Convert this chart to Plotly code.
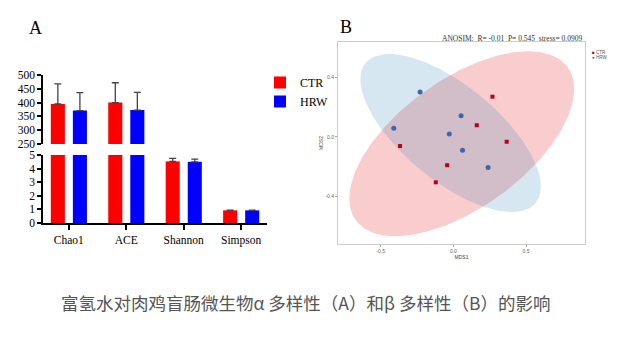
import numpy as np
import plotly.graph_objects as go

# ---------------- data ----------------
categories = ["Chao1", "ACE", "Shannon", "Simpson"]
ctr_mean = [395, 400, 4.53, 0.93]
ctr_err = [73, 72, 0.22, 0.01]
hrw_mean = [371, 373, 4.50, 0.93]
hrw_err = [65, 64, 0.20, 0.01]

upper_ticks = [250, 300, 350, 400, 450, 500]
lower_ticks = [0, 1, 2, 3, 4, 5]

ctr_mds1 = [0.161, -0.367, -0.043, -0.121, 0.269, 0.367]
ctr_mds2 = [0.079, -0.061, -0.190, -0.305, 0.271, -0.032]
hrw_mds1 = [-0.229, 0.053, -0.410, -0.028, 0.063, 0.239]
hrw_mds2 = [0.302, 0.143, 0.058, 0.020, -0.089, -0.206]

mds_xticks = [-0.5, 0.0, 0.5]
mds_yticks = [-0.4, 0.0, 0.4]

group_names = ["CTR", "HRW"]
anosim_text = "ANOSIM:  R= -0.01  P= 0.545  stress= 0.0909"
caption = "富氢水对肉鸡盲肠微生物α 多样性（A）和β 多样性（B）的影响"

# ---------------- helpers ----------------
# the page body has an 8px margin on every side; keep the figure inside the window
OFF = 8
W, H = 630 - 2 * OFF, 355 - 2 * OFF
def px(x):
    return (x - OFF) / W
def py(y):
    return 1 - (y - OFF) / H


def cov_trob(x, nu=5, maxit=25, tol=0.01):
    """Multivariate-t robust covariance (as MASS::cov.trob)."""
    n, p = x.shape
    wt = np.ones(n)
    loc = x.mean(axis=0)
    w = np.sqrt(wt)
    X = x - loc
    for _ in range(maxit):
        w0 = w
        X = x - loc
        _, d, vt = np.linalg.svd(np.sqrt(w / w.sum())[:, None] * X, full_matrices=False)
        wX = X @ vt.T @ np.diag(1 / d)
        Q = (wX ** 2).sum(axis=1)
        w = (wt * (nu + p)) / (nu + Q)
        loc = (w[:, None] * x).sum(axis=0) / w.sum()
        if np.all(np.abs(w - w0) < tol):
            break
    cov = (np.sqrt(w)[:, None] * X).T @ (np.sqrt(w)[:, None] * X) / wt.sum()
    return loc, cov


def conf_ellipse(xs, ys, level=0.95, n=240):
    pts = np.column_stack([xs, ys])
    center, shape = cov_trob(pts)
    dfn, dfd = 2, len(xs) - 1
    qf = dfd / 2 * ((1 - level) ** (-2 / dfd) - 1)  # F(2, dfd) quantile
    radius = np.sqrt(dfn * qf)
    chol = np.linalg.cholesky(shape).T  # upper triangular like R's chol
    t = np.linspace(0, 2 * np.pi, n)
    circ = np.column_stack([np.cos(t), np.sin(t)])
    e = center + radius * (circ @ chol)
    return e[:, 0], e[:, 1]


RED = "#FF0000"
BLUE = "#0000FF"
PT_RED = "#B8001A"
PT_BLUE = "#3A68AE"
SERIF = "Liberation Serif"

fig = go.Figure()

# ---------------- panel A ----------------
bar_w = 0.245
for yax, xax, show in [("y", "x2", False), ("y2", "x", True)]:
    fig.add_trace(go.Bar(
        x=categories, y=ctr_mean, name=group_names[0], marker_color=RED, marker_line_width=0,
        width=bar_w, offset=-0.314, xaxis=xax, yaxis=yax, showlegend=show,
        error_y=dict(type="data", symmetric=False, array=ctr_err,
                     arrayminus=[0] * 4, color="#444444", thickness=1.3, width=3.5),
    ))
    fig.add_trace(go.Bar(
        x=categories, y=hrw_mean, name=group_names[1], marker_color=BLUE, marker_line_width=0,
        width=bar_w, offset=0.07, xaxis=xax, yaxis=yax, showlegend=show,
        error_y=dict(type="data", symmetric=False, array=hrw_err,
                     arrayminus=[0] * 4, color="#444444", thickness=1.3, width=3.5),
    ))

# ---------------- panel B ----------------
for xs, ys, fill in [(ctr_mds1, ctr_mds2, "rgba(227,26,28,0.22)"),
                     (hrw_mds1, hrw_mds2, "rgba(31,120,180,0.18)")]:
    ex, ey = conf_ellipse(xs, ys)
    fig.add_trace(go.Scatter(x=ex, y=ey, mode="lines", fill="toself",
                             fillcolor=fill, line=dict(width=0),
                             xaxis="x3", yaxis="y3", showlegend=False,
                             hoverinfo="skip"))

fig.add_trace(go.Scatter(x=ctr_mds1, y=ctr_mds2, mode="markers", name=group_names[0],
                         marker=dict(symbol="square", size=4, color=PT_RED),
                         xaxis="x3", yaxis="y3", showlegend=False))
fig.add_trace(go.Scatter(x=hrw_mds1, y=hrw_mds2, mode="markers", name=group_names[1],
                         marker=dict(symbol="circle", size=5, color=PT_BLUE),
                         xaxis="x3", yaxis="y3", showlegend=False))

axA = dict(showline=True, linecolor="black", linewidth=1.5, ticks="outside",
           ticklen=4, tickwidth=1.5, tickcolor="black", showgrid=False,
           zeroline=False, tickfont=dict(family=SERIF, size=11.5, color="black"))

axB_font = dict(family="Liberation Sans", size=5, color="#666")

# small key for panel B (as in the reference, right of the panel)
keyB = []
for name, sym, col, yy in [(group_names[0], "■", PT_RED, 52), (group_names[1], "●", PT_BLUE, 57)]:
    keyB.append(dict(text=f'<span style="color:{col}">{sym}</span> {name}',
                     x=px(590), y=py(yy), xref="paper", yref="paper",
                     xanchor="left", yanchor="middle", showarrow=False,
                     font=dict(family="Liberation Sans", size=4.5, color="#555")))

fig.update_layout(
    width=W, height=H,
    margin=dict(l=0, r=0, t=0, b=0, autoexpand=False),
    paper_bgcolor="white", plot_bgcolor="rgba(0,0,0,0)",
    barmode="overlay",
    xaxis=dict(axA, domain=[px(43), px(267)], anchor="y2", type="category",
               categoryorder="array", categoryarray=categories,
               range=[-0.45, 3.45], ticklen=5),
    xaxis2=dict(domain=[px(43), px(267)], anchor="y", matches="x", visible=False),
    yaxis=dict(axA, domain=[py(144), py(75)], anchor="x2", range=[250, 500],
               tickvals=upper_ticks),
    yaxis2=dict(axA, domain=[py(223), py(155)], anchor="x", range=[0, 5],
                tickvals=lower_ticks),
    xaxis3=dict(domain=[px(338), px(585)], anchor="y3", range=[-0.794, 0.906],
                tickvals=mds_xticks, ticktext=["-0.5", "0.0", "0.5"],
                showline=True, mirror=True, linecolor="#cccccc", linewidth=1,
                ticks="outside", ticklen=2, tickcolor="#aaaaaa", showgrid=False,
                zeroline=False, tickfont=axB_font,
                title=dict(text="MDS1", font=dict(family="Liberation Sans", size=5, color="#444"),
                           standoff=1)),
    yaxis3=dict(domain=[py(244), py(42)], anchor="x3", range=[-0.72, 0.639],
                tickvals=mds_yticks, ticktext=["-0.4", "0.0", "0.4"],
                showline=True, mirror=True, linecolor="#cccccc", linewidth=1,
                ticks="outside", ticklen=2, tickcolor="#aaaaaa", showgrid=False,
                zeroline=False, tickfont=axB_font,
                title=dict(text="MDS2", font=dict(family="Liberation Sans", size=5, color="#444"),
                           standoff=1)),
    legend=dict(x=px(260), y=py(68), xanchor="left", yanchor="top",
                font=dict(family=SERIF, size=12, color="black"),
                bgcolor="rgba(0,0,0,0)", tracegroupgap=0, itemwidth=30),
    annotations=[
        dict(text="A", x=px(27), y=py(28), xref="paper", yref="paper",
             xanchor="left", yanchor="middle", showarrow=False,
             font=dict(family=SERIF, size=18, color="black")),
        dict(text="B", x=px(338), y=py(27), xref="paper", yref="paper",
             xanchor="left", yanchor="middle", showarrow=False,
             font=dict(family=SERIF, size=18, color="black")),
        dict(text=anosim_text, x=px(584), y=py(38), xref="paper", yref="paper",
             xanchor="right", yanchor="middle", showarrow=False,
             font=dict(family=SERIF, size=7.5, color="#333")),
        dict(text=caption, x=px(305), y=py(302), xref="paper", yref="paper",
             xanchor="center", yanchor="middle", showarrow=False,
             font=dict(family="Noto Sans CJK SC", size=17.5, color="#555")),
    ] + keyB,
)

fig.write_html("out.html")
